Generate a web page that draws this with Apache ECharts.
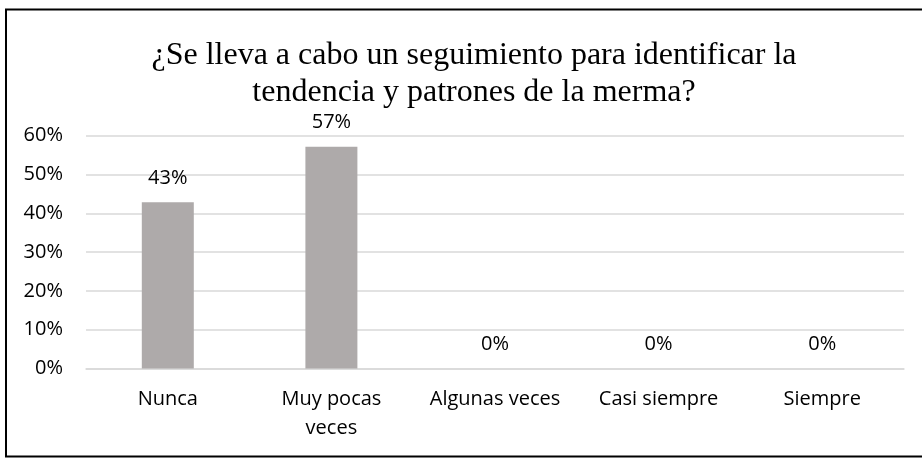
<!DOCTYPE html>
<html><head><meta charset="utf-8">
<script src="https://cdn.jsdelivr.net/npm/echarts@6/dist/echarts.min.js"></script>
<style>html,body{margin:0;padding:0;background:#fff}#c{width:922px;height:459px}</style>
</head><body><div id="c"></div>
<script>
const categories = ['Nunca', 'Muy pocas\nveces', 'Algunas veces', 'Casi siempre', 'Siempre'];
const values = [0.4286, 0.5714, 0, 0, 0];
const yTicks = [0, 0.1, 0.2, 0.3, 0.4, 0.5, 0.6];
const titleText = '¿Se lleva a cabo un seguimiento para identificar la\ntendencia y patrones de la merma?';

const chart = echarts.init(document.getElementById('c'));
const sans = '"Open Sans", "Noto Sans", sans-serif';
chart.setOption({
  animation: false,
  title: {
    text: titleText, left: 469, top: 32, textAlign: 'center',
    textStyle: { fontFamily: '"Liberation Serif", "Times New Roman", serif', fontSize: 32, fontWeight: 'normal', color: '#000', lineHeight: 37 }
  },
  graphic: [{ type: 'rect', shape: { x: 6, y: 9.5, width: 940, height: 447 }, style: { fill: 'none', stroke: '#000', lineWidth: 2 } }],
  grid: { left: 86, right: 18, top: 135.7, bottom: 90.6, containLabel: false },
  xAxis: {
    type: 'category', data: categories,
    axisLine: { show: true, lineStyle: { color: '#d9d9d9', width: 1.5 } },
    axisTick: { show: false },
    axisLabel: { fontFamily: sans, fontSize: 20, color: '#000', margin: 16, lineHeight: 29, interval: 0 }
  },
  yAxis: {
    type: 'value', min: 0, max: yTicks[yTicks.length - 1], interval: 0.1,
    axisLine: { show: false }, axisTick: { show: false },
    splitLine: { lineStyle: { color: '#d9d9d9', width: 1.5 } },
    axisLabel: { fontFamily: sans, fontSize: 20, color: '#000', margin: 23, formatter: v => Math.round(v * 100) + '%' }
  },
  series: [{
    type: 'bar', data: values, barWidth: 52,
    itemStyle: { color: '#AEAAAA' },
    label: { show: true, position: 'top', distance: 14, fontFamily: sans, fontSize: 20, color: '#000', formatter: p => Math.round(p.value * 100) + '%' }
  }]
});
</script></body></html>
